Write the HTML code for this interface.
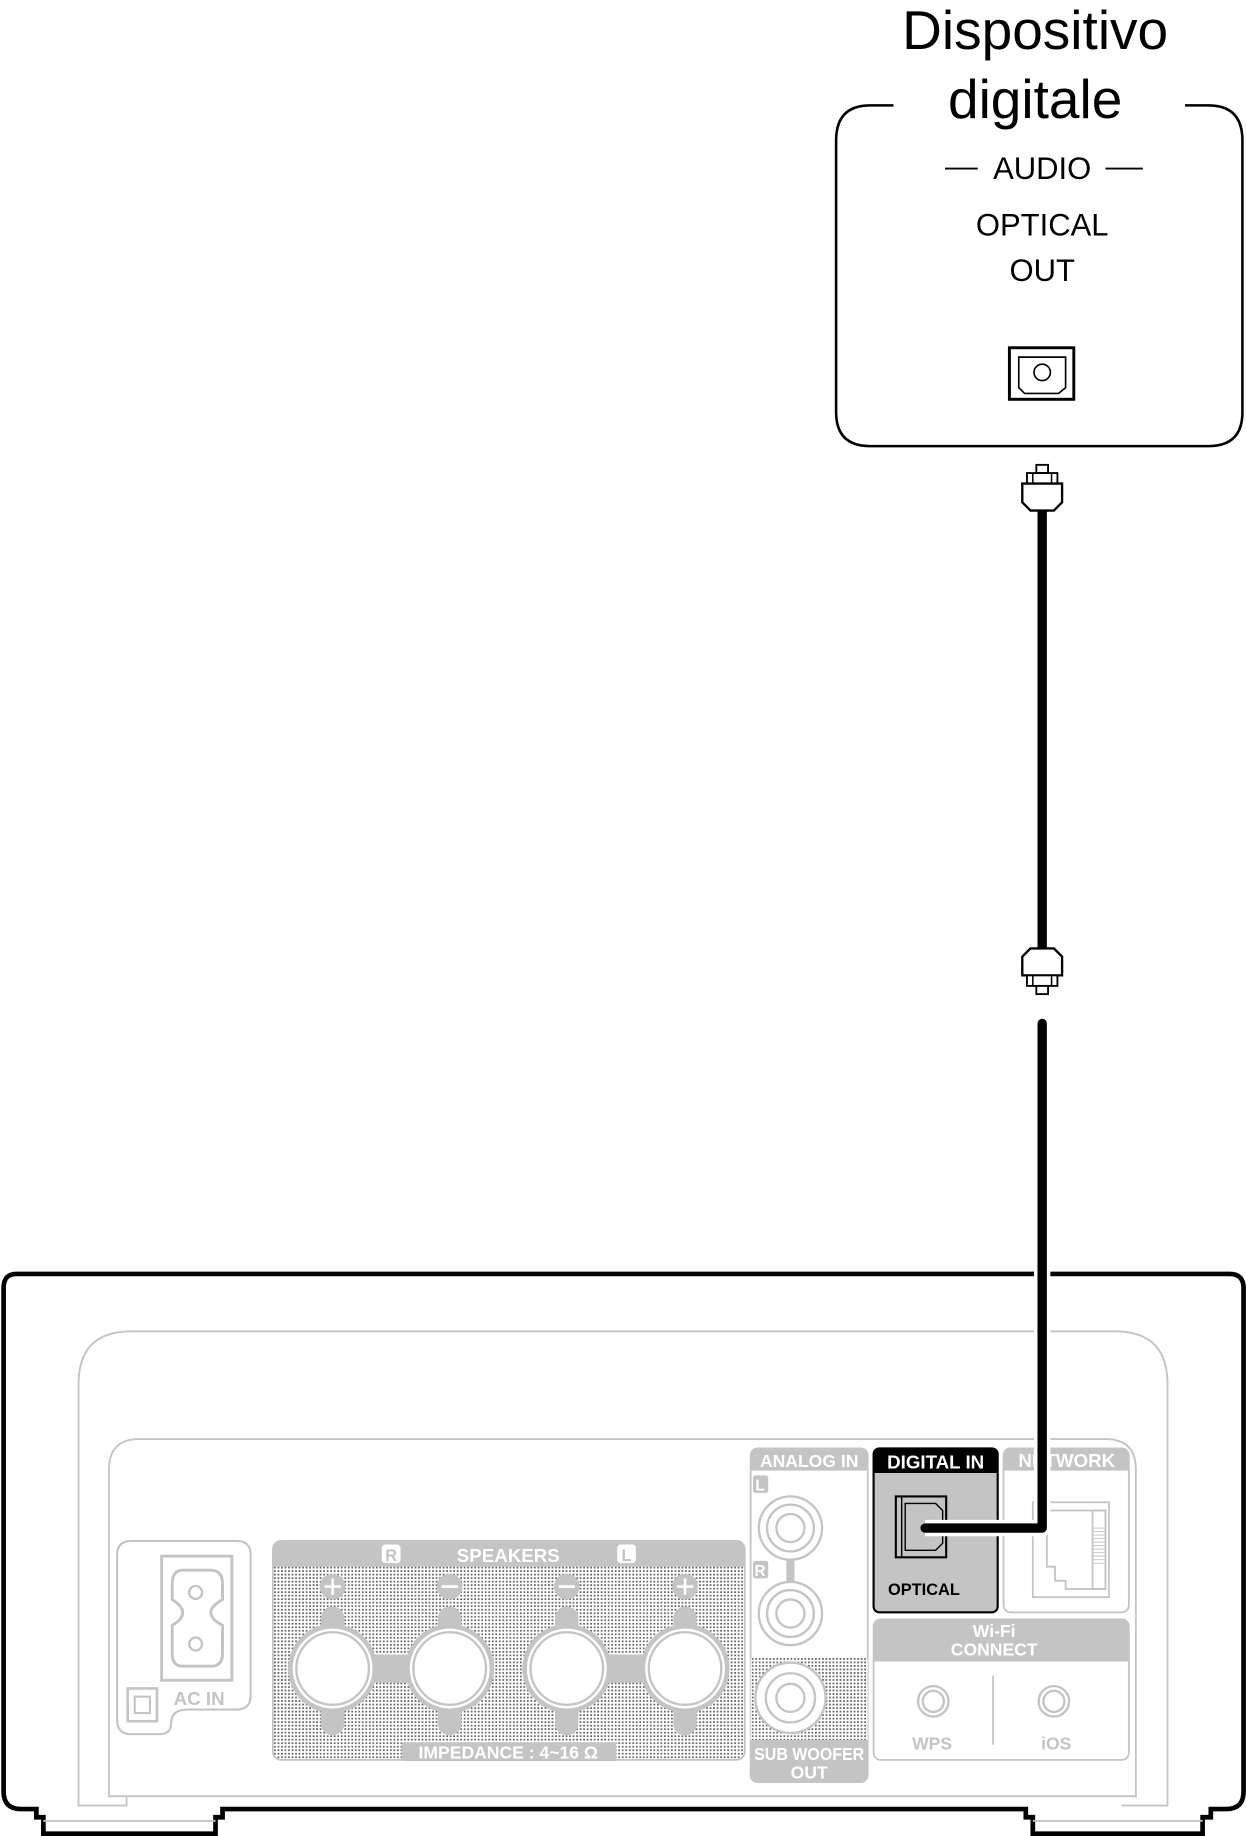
<!DOCTYPE html>
<html><head><meta charset="utf-8"><style>
html,body{margin:0;padding:0;background:#fff}
svg{display:block}
text{font-family:"Liberation Sans",sans-serif}
</style></head><body>
<svg width="1246" height="1836" viewBox="0 0 1064 1568" xmlns="http://www.w3.org/2000/svg">
<defs>
<pattern id="dots" width="3" height="3" patternUnits="userSpaceOnUse">
<rect width="3" height="3" fill="#fff"/><rect width="1.5" height="1.5" fill="#666"/>
</pattern>
</defs>
<!-- Title -->
<text x="884" y="42" font-size="47" text-anchor="middle">Dispositivo</text>
<text x="884" y="101" font-size="47" text-anchor="middle">digitale</text>
<!-- device box -->
<path d="M763 90 H743 Q714 90 714 120 V352 Q714 381 743 381 H1032 Q1061 381 1061 352 V120 Q1061 90 1032 90 H1012" fill="none" stroke="#000" stroke-width="2.2"/>
<line x1="807" y1="144" x2="835" y2="144" stroke="#000" stroke-width="1.6"/>
<line x1="944" y1="144" x2="976" y2="144" stroke="#000" stroke-width="1.6"/>
<text x="890" y="153" font-size="26.5" text-anchor="middle">AUDIO</text>
<text x="890" y="201" font-size="26.5" text-anchor="middle">OPTICAL</text>
<text x="890" y="240" font-size="26.5" text-anchor="middle">OUT</text>
<rect x="862" y="297" width="55" height="44" fill="none" stroke="#000" stroke-width="2.5"/>
<path d="M870 305 H910 V331 L904 336 H875 L870 331 Z" fill="none" stroke="#000" stroke-width="1.4"/>
<circle cx="890" cy="318" r="7" fill="none" stroke="#000" stroke-width="1.4"/>
<!-- top plug -->
<rect x="885" y="397" width="10" height="7" fill="#fff" stroke="#000" stroke-width="1.6"/>
<rect x="877" y="404" width="26" height="9" fill="#fff" stroke="#000" stroke-width="1.6"/>
<line x1="882" y1="404" x2="882" y2="413" stroke="#000" stroke-width="1.3"/>
<line x1="898" y1="404" x2="898" y2="413" stroke="#000" stroke-width="1.3"/>
<path d="M873 413 H907 V429 L900 436 H880 L873 429 Z" fill="#fff" stroke="#000" stroke-width="2"/>
<rect x="886" y="436" width="8" height="375" fill="#000"/>
<!-- lower plug -->
<path d="M880 810 H900 L907 817 V833 H873 V817 Z" fill="#fff" stroke="#000" stroke-width="2"/>
<rect x="877" y="833" width="26" height="9" fill="#fff" stroke="#000" stroke-width="1.6"/>
<line x1="882" y1="833" x2="882" y2="842" stroke="#000" stroke-width="1.3"/>
<line x1="898" y1="833" x2="898" y2="842" stroke="#000" stroke-width="1.3"/>
<rect x="885" y="842" width="10" height="7" fill="#fff" stroke="#000" stroke-width="1.6"/>
<!-- main unit outline -->
<path d="M14 1088 H1050 Q1062 1088 1062 1100 V1530 Q1062 1545 1047 1545 H1034 V1552 H1027 V1566 H882 V1552 H876 V1545 H190 V1552 H184 V1566 H37 V1552 H31 V1545 H18 Q3 1545 3 1530 V1100 Q3 1088 14 1088 Z" fill="#fff" stroke="#000" stroke-width="4"/>
<g fill="none" stroke="#c4c4c4" stroke-width="1.6">
<path d="M67 1535 V1182 Q67 1137 112 1137 H952 Q997 1137 997 1182 V1535"/>
<path d="M93 1535 V1255 Q93 1229 119 1229 H944 Q970 1229 970 1255 V1535"/>
<line x1="93" y1="1534" x2="970" y2="1534"/>
<path d="M67 1535 V1542 H108 V1535"/>
<path d="M37 1555 H184"/>
<path d="M882 1555 H1027"/>
<path d="M997 1535 V1542 H958"/>
</g>
<!-- AC IN -->
<g stroke="#c4c4c4" fill="none">
<path d="M112 1316 H202 Q214 1316 214 1328 V1448 Q214 1460 202 1460 H160 Q146 1460 146 1472 V1472 Q146 1481 136 1481 H112 Q100 1481 100 1469 V1328 Q100 1316 112 1316 Z" stroke-width="1.8"/>
<rect x="138" y="1329" width="60" height="106" stroke-width="2.5"/>
<path d="M156 1341 H180 Q190 1341 190 1353 V1366 Q180 1372 180 1377 Q180 1383 190 1388 V1412 Q190 1423 180 1423 H156 Q147 1423 147 1412 V1388 Q156 1383 156 1377 Q156 1372 147 1366 V1353 Q147 1341 156 1341 Z" stroke-width="2.5"/>
<circle cx="167" cy="1360" r="5.5" stroke-width="2"/>
<circle cx="167" cy="1404" r="5.5" stroke-width="2"/>
<rect x="109" y="1442" width="25" height="28" stroke-width="2.2"/>
<rect x="115" y="1449" width="13" height="14" stroke-width="1.8"/>
</g>
<text x="170" y="1456" font-size="16" font-weight="bold" fill="#c4c4c4" text-anchor="middle">AC IN</text>
<!-- SPEAKERS -->
<rect x="233" y="1316" width="403" height="187" rx="7" fill="url(#dots)" stroke="#c4c4c4" stroke-width="1.5"/>
<path d="M233 1338 V1323 Q233 1316 240 1316 H629 Q636 1316 636 1323 V1338 Z" fill="#c4c4c4"/>
<rect x="326" y="1319" width="16" height="16" rx="3" fill="#fff"/>
<text x="334" y="1333" font-size="14" font-weight="bold" fill="#c4c4c4" text-anchor="middle">R</text>
<rect x="527" y="1319" width="16" height="16" rx="3" fill="#fff"/>
<text x="535" y="1333" font-size="14" font-weight="bold" fill="#c4c4c4" text-anchor="middle">L</text>
<text x="434" y="1334" font-size="16" font-weight="bold" fill="#fff" text-anchor="middle">SPEAKERS</text>
<rect x="343" y="1488" width="183" height="16" fill="#c4c4c4"/>
<text x="434" y="1502" font-size="15" font-weight="bold" fill="#fff" text-anchor="middle">IMPEDANCE : 4~16 Ω</text>
<rect x="284" y="1413" width="100" height="24" fill="#c4c4c4"/>
<rect x="485" y="1413" width="100" height="24" fill="#c4c4c4"/>
<g fill="#c4c4c4">
<rect x="274" y="1372" width="20" height="110" rx="10"/>
<rect x="374" y="1372" width="20" height="110" rx="10"/>
<rect x="474" y="1372" width="20" height="110" rx="10"/>
<rect x="575" y="1372" width="20" height="110" rx="10"/>
<circle cx="284" cy="1355" r="11"/><circle cx="384" cy="1355" r="11"/><circle cx="484" cy="1355" r="11"/><circle cx="585" cy="1355" r="11"/>
<circle cx="284" cy="1425" r="38"/><circle cx="384" cy="1425" r="38"/><circle cx="484" cy="1425" r="38"/><circle cx="585" cy="1425" r="38"/>
</g>
<g fill="#fff" stroke="#fff" stroke-width="2.2">
<circle cx="284" cy="1425" r="33"/><circle cx="384" cy="1425" r="33"/><circle cx="484" cy="1425" r="33"/><circle cx="585" cy="1425" r="33"/>
</g>
<g fill="none" stroke="#c4c4c4" stroke-width="2">
<circle cx="284" cy="1425" r="31"/><circle cx="384" cy="1425" r="31"/><circle cx="484" cy="1425" r="31"/><circle cx="585" cy="1425" r="31"/>
</g>
<g stroke="#fff" stroke-width="2.2">
<line x1="277" y1="1355" x2="291" y2="1355"/><line x1="284" y1="1348" x2="284" y2="1362"/>
<line x1="377" y1="1355" x2="391" y2="1355"/>
<line x1="477" y1="1355" x2="491" y2="1355"/>
<line x1="578" y1="1355" x2="592" y2="1355"/><line x1="585" y1="1348" x2="585" y2="1362"/>
</g>
<!-- ANALOG IN -->
<rect x="641" y="1237" width="100" height="285" rx="6" fill="#fff" stroke="#c4c4c4" stroke-width="1.5"/>
<path d="M641 1256 V1243 Q641 1237 647 1237 H735 Q741 1237 741 1243 V1256 Z" fill="#c4c4c4"/>
<text x="691" y="1253" font-size="15" font-weight="bold" fill="#fff" text-anchor="middle">ANALOG IN</text>
<rect x="643" y="1260" width="13" height="15" rx="2" fill="#c4c4c4"/>
<text x="649" y="1273" font-size="13" font-weight="bold" fill="#fff" text-anchor="middle">L</text>
<rect x="643" y="1333" width="13" height="15" rx="2" fill="#c4c4c4"/>
<text x="649" y="1346" font-size="13" font-weight="bold" fill="#fff" text-anchor="middle">R</text>
<line x1="675" y1="1330" x2="675" y2="1360" stroke="#c4c4c4" stroke-width="7"/>
<g fill="#fff" stroke="#c4c4c4" stroke-width="2">
<circle cx="675" cy="1305" r="27"/><circle cx="675" cy="1305" r="20"/><circle cx="675" cy="1305" r="12"/>
<circle cx="675" cy="1378" r="27"/><circle cx="675" cy="1378" r="20"/><circle cx="675" cy="1378" r="12"/>
</g>
<path d="M641 1416 H741 V1486 H641 Z" fill="url(#dots)"/>
<path d="M641 1486 H741 V1516 Q741 1522 735 1522 H647 Q641 1522 641 1516 Z" fill="#c4c4c4"/>
<g fill="#fff" stroke="#c4c4c4" stroke-width="2">
<circle cx="675" cy="1450" r="30"/><circle cx="675" cy="1450" r="21"/><circle cx="675" cy="1450" r="12"/>
</g>
<text x="691" y="1503" font-size="15" font-weight="bold" fill="#fff" text-anchor="middle" textLength="94" lengthAdjust="spacingAndGlyphs">SUB WOOFER</text>
<text x="691" y="1519" font-size="15" font-weight="bold" fill="#fff" text-anchor="middle">OUT</text>
<!-- NETWORK -->
<rect x="857" y="1237" width="107" height="140" rx="6" fill="#fff" stroke="#c4c4c4" stroke-width="1.5"/>
<path d="M857 1256 V1243 Q857 1237 863 1237 H958 Q964 1237 964 1243 V1256 Z" fill="#c4c4c4"/>
<text x="911" y="1253" font-size="16" font-weight="bold" fill="#fff" text-anchor="middle">NETWORK</text>
<g fill="none" stroke="#c4c4c4" stroke-width="1.5">
<rect x="882" y="1283" width="65" height="81"/>
<path d="M894 1290 V1338 H901 V1350 H910 V1357 H944 V1290 Z"/>
<rect x="933" y="1290" width="11" height="67"/>
<path d="M933 1305 H944 M933 1308 H944 M933 1311 H944 M933 1314 H944 M933 1317 H944 M933 1320 H944 M933 1323 H944 M933 1326 H944 M933 1329 H944 M933 1332 H944 M933 1335 H944" stroke-width="0.8"/>
</g>
<!-- Wi-Fi -->
<rect x="746" y="1383" width="218" height="120" rx="6" fill="#fff" stroke="#c4c4c4" stroke-width="1.5"/>
<path d="M746 1419 V1389 Q746 1383 752 1383 H958 Q964 1383 964 1389 V1419 Z" fill="#c4c4c4"/>
<text x="849" y="1398" font-size="15" font-weight="bold" fill="#fff" text-anchor="middle">Wi-Fi</text>
<text x="849" y="1414" font-size="15" font-weight="bold" fill="#fff" text-anchor="middle">CONNECT</text>
<line x1="848" y1="1431" x2="848" y2="1490" stroke="#c4c4c4" stroke-width="1.5"/>
<g fill="none" stroke="#c4c4c4" stroke-width="2">
<circle cx="797" cy="1453" r="13"/><circle cx="797" cy="1453" r="9"/>
<circle cx="900" cy="1453" r="13"/><circle cx="900" cy="1453" r="9"/>
</g>
<text x="796" y="1494" font-size="15" font-weight="bold" fill="#c4c4c4" text-anchor="middle">WPS</text>
<text x="902" y="1494" font-size="15" font-weight="bold" fill="#c4c4c4" text-anchor="middle">iOS</text>
<!-- DIGITAL IN -->
<rect x="746" y="1237" width="106" height="140" rx="5" fill="#c4c4c4" stroke="#000" stroke-width="1.8"/>
<path d="M746 1258 V1242 Q746 1237 751 1237 H847 Q852 1237 852 1242 V1258 Z" fill="#000"/>
<text x="799" y="1254" font-size="16" font-weight="bold" fill="#fff" text-anchor="middle">DIGITAL IN</text>
<rect x="765" y="1278" width="43" height="52" fill="#c4c4c4" stroke="#000" stroke-width="1.8"/>
<line x1="770" y1="1278" x2="770" y2="1330" stroke="#000" stroke-width="1.2"/>
<path d="M773 1284 H799 L805 1290 V1318 L799 1324 H773 Z" fill="none" stroke="#000" stroke-width="1.2"/>
<text x="789" y="1362" font-size="14" font-weight="bold" fill="#000" text-anchor="middle">OPTICAL</text>
<!-- cable into unit -->
<path d="M890 874 V1305 H790" fill="none" stroke="#fff" stroke-width="14" stroke-linejoin="round"/>
<path d="M890 874 V1305 H790" fill="none" stroke="#000" stroke-width="8" stroke-linejoin="round" stroke-linecap="round"/>
</svg>
</body></html>
